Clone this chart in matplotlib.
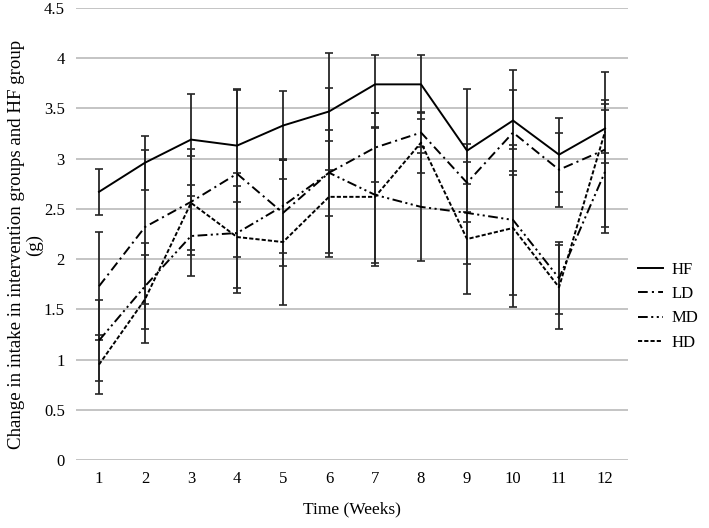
import numpy as np
import matplotlib
matplotlib.use("Agg")
import matplotlib.pyplot as plt

plt.rcParams['font.family'] = ['Liberation Serif', 'DejaVu Serif']
plt.rcParams['lines.scale_dashes'] = False

weeks = np.arange(1, 13)

# mean change in intake (g)
hf = [2.67, 2.96, 3.19, 3.13, 3.33, 3.47, 3.74, 3.74, 3.08, 3.38, 3.04, 3.30]
ld = [1.73, 2.32, 2.57, 2.85, 2.46, 2.86, 3.11, 3.26, 2.76, 3.26, 2.89, 3.09]
md = [1.19, 1.73, 2.23, 2.26, 2.53, 2.86, 2.64, 2.52, 2.46, 2.39, 1.81, 2.87]
hd = [0.95, 1.60, 2.56, 2.22, 2.17, 2.62, 2.62, 3.16, 2.20, 2.31, 1.72, 3.27]

# error bar half widths
hf_err = [0.23, 0.27, 0.45, 0.56, 0.34, 0.58, 0.29, 0.29, 0.61, 0.50, 0.37, 0.24]
ld_err = [0.54, 0.77, 0.53, 0.83, 0.53, 0.43, 0.34, 0.14, 0.39, 0.42, 0.37, 0.77]
md_err = [0.40, 0.43, 0.40, 0.60, 0.47, 0.84, 0.68, 0.54, 0.51, 0.75, 0.36, 0.61]
hd_err = [0.29, 0.44, 0.47, 0.51, 0.63, 0.56, 0.69, 0.30, 0.55, 0.785, 0.42, 0.31]

series = [
    ("HF", hf, hf_err, '-'),
    ("LD", ld, ld_err, (0, (7, 3, 1.5, 3))),
    ("MD", md, md_err, (0, (7, 2.5, 1.5, 2.5, 1.5, 2.5))),
    ("HD", hd, hd_err, (0, (3, 1.5))),
]

fig = plt.figure(figsize=(7.09, 5.28), dpi=100)
ax = fig.add_axes([0.1072, 0.1288, 0.7786, 0.856])

for name, vals, err, ls in series:
    ax.errorbar(weeks, vals, yerr=err, fmt='none', ecolor='#262626',
                elinewidth=1.3, capsize=2.8, capthick=1.2, zorder=2)
    ax.plot(weeks, vals, color='black', linestyle=ls, linewidth=1.4,
            label=name, zorder=3)

ax.set_xlim(0.5, 12.5)
ax.set_ylim(0, 4.5)
ax.set_xticks(weeks)
ax.set_xticklabels([str(w) for w in weeks])
ax.set_yticks(np.arange(0, 4.51, 0.5))
ax.set_yticklabels(['0', '0.5', '1', '1.5', '2', '2.5', '3', '3.5', '4', '4.5'])
ax.grid(axis='y', color='#bfbfbf', linewidth=1.3, zorder=0)
ax.set_axisbelow(True)
for s in ax.spines.values():
    s.set_visible(False)
ax.tick_params(axis='both', length=0, labelsize=12, pad=8)

ax.set_xlabel('Time (Weeks)', fontsize=12.5, labelpad=10)
ax.set_ylabel('Change in intake in intervention groups and HF group\n(g)',
              fontsize=13.6, linespacing=1.05)
ax.yaxis.set_label_coords(-0.06, 0.476)

ax.legend(loc='center left', bbox_to_anchor=(1.018, 0.34), frameon=False,
          fontsize=12, handlelength=1.5, handletextpad=0.5,
          labelspacing=0.5, borderaxespad=0, borderpad=0)

fig.savefig("out.png", dpi=100)
